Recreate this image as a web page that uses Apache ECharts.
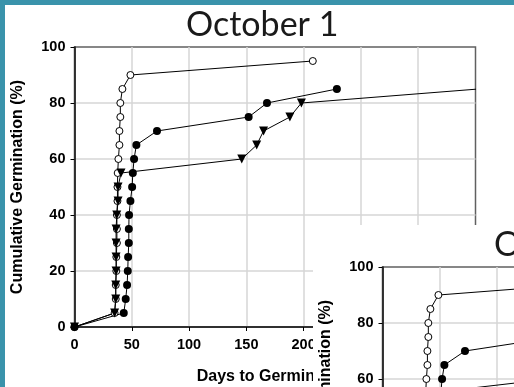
<!DOCTYPE html>
<html>
<head>
<meta charset="utf-8">
<script src="https://cdn.jsdelivr.net/npm/echarts@6/dist/echarts.min.js"></script>
<style>
  html, body { margin: 0; padding: 0; background: #fff; }
  body { width: 514px; height: 387px; position: relative; overflow: hidden; }
  #edgeLeft { position: absolute; left: 0; top: 0; width: 5px; height: 387px; background: #3a93ab; }
  #edgeTop { position: absolute; left: 0; top: 0; width: 514px; height: 5px; background: #3a93ab; }
  #chart1 { position: absolute; left: 0; top: 0; width: 514px; height: 387px; }
  /* second slide laid over the first one */
  #panel2 { position: absolute; left: 313px; top: 225px; width: 201px; height: 162px; overflow: hidden; background: #fff; }
  #chart2 { position: absolute; left: -5px; top: -5px; width: 514px; height: 387px; }
</style>
</head>
<body>
<div id="chart1"></div>
<div id="edgeLeft"></div>
<div id="edgeTop"></div>
<div id="panel2"><div id="chart2"></div></div>
<script>
  // open circles
  const openDays = [0, 35, 36, 36, 36.5, 36.5, 37, 37, 37, 37.5, 37.5, 37.7, 38.3, 39.2, 39.2, 40, 40, 41.8, 48.8, 208];
  const openPct = [0, 5, 10, 15, 20, 25, 30, 35, 40, 45, 50, 55, 60, 65, 70, 75, 80, 85, 90, 95];
  // filled circles
  const filledDays = [0, 43, 44.7, 45.9, 46.5, 46.8, 47.4, 47.4, 47.6, 48.8, 50.3, 50.9, 52, 54, 72, 152, 168, 229];
  const filledPct = [0, 5, 10, 15, 20, 25, 30, 35, 40, 45, 50, 55, 60, 65, 70, 75, 80, 85];
  // triangles (last point runs past the axis end)
  const triDays = [0, 35, 36, 36, 36.3, 36.3, 36.3, 36.3, 36.9, 38, 38, 40.6, 146, 159, 165, 188, 198, 365];
  const triPct = [0, 5, 10, 15, 20, 25, 30, 35, 40, 45, 50, 55, 60, 65, 70, 75, 80, 85.4];

  const titles = ['October 1', 'October 15'];
  const xName = 'Days to Germination';
  const yName = 'Cumulative Germination (%)';

  function pairs(xs, ys) {
    return xs.map(function (x, i) { return [x, ys[i]]; });
  }

  function buildOption(title) {
    const labelFont = { fontFamily: 'Liberation Sans', fontWeight: 'bold', fontSize: 14.5, color: '#000' };
    const nameFont = { fontFamily: 'Liberation Sans', fontWeight: 'bold', fontSize: 16, color: '#000' };
    return {
      animation: false,
      title: {
        text: title,
        left: 181,
        top: 3,
        textStyle: { fontFamily: 'Lato', fontWeight: 'normal', fontSize: 34, color: '#1a1a1a' }
      },
      grid: {
        left: 74.5, top: 47, width: 401, height: 280,
        outerBoundsMode: 'none', containLabel: false,
        show: true, borderColor: '#606060', borderWidth: 1.5, backgroundColor: 'transparent'
      },
      xAxis: {
        type: 'value', min: 0, max: 350, interval: 50,
        name: xName, nameLocation: 'middle', nameGap: 42, nameTextStyle: nameFont,
        axisLine: { lineStyle: { color: '#000', width: 1.5 } },
        axisTick: { show: true, length: 4, lineStyle: { color: '#000' } },
        axisLabel: Object.assign({ margin: 10 }, labelFont),
        splitLine: { show: true, showMaxLine: false, lineStyle: { color: '#d6d6d6', width: 1.5 } }
      },
      yAxis: {
        type: 'value', min: 0, max: 100, interval: 20,
        name: yName, nameLocation: 'middle', nameGap: 49, nameTextStyle: nameFont,
        axisLine: { lineStyle: { color: '#000', width: 1.5 } },
        axisTick: { show: true, length: 4, lineStyle: { color: '#000' } },
        axisLabel: Object.assign({ margin: 9 }, labelFont),
        splitLine: { show: true, showMaxLine: false, lineStyle: { color: '#d6d6d6', width: 1.5 } }
      },
      series: [
        {
          type: 'line', data: pairs(openDays, openPct),
          symbol: 'circle', symbolSize: 7,
          lineStyle: { color: '#000', width: 1 },
          itemStyle: { color: '#fff', borderColor: '#000', borderWidth: 1 }
        },
        {
          type: 'line', data: pairs(filledDays, filledPct),
          symbol: 'circle', symbolSize: 8,
          lineStyle: { color: '#000', width: 1 },
          itemStyle: { color: '#000', borderColor: '#000', borderWidth: 0 }
        },
        {
          type: 'line', data: pairs(triDays, triPct),
          symbol: 'triangle', symbolRotate: 180, symbolSize: 9,
          lineStyle: { color: '#000', width: 1 },
          itemStyle: { color: '#000', borderColor: '#000', borderWidth: 0 }
        }
      ]
    };
  }

  let chart1 = echarts.init(document.getElementById('chart1'));
  chart1.setOption(buildOption(titles[0]));
  let chart2 = echarts.init(document.getElementById('chart2'));
  chart2.setOption(buildOption(titles[1]));
</script>
</body>
</html>
